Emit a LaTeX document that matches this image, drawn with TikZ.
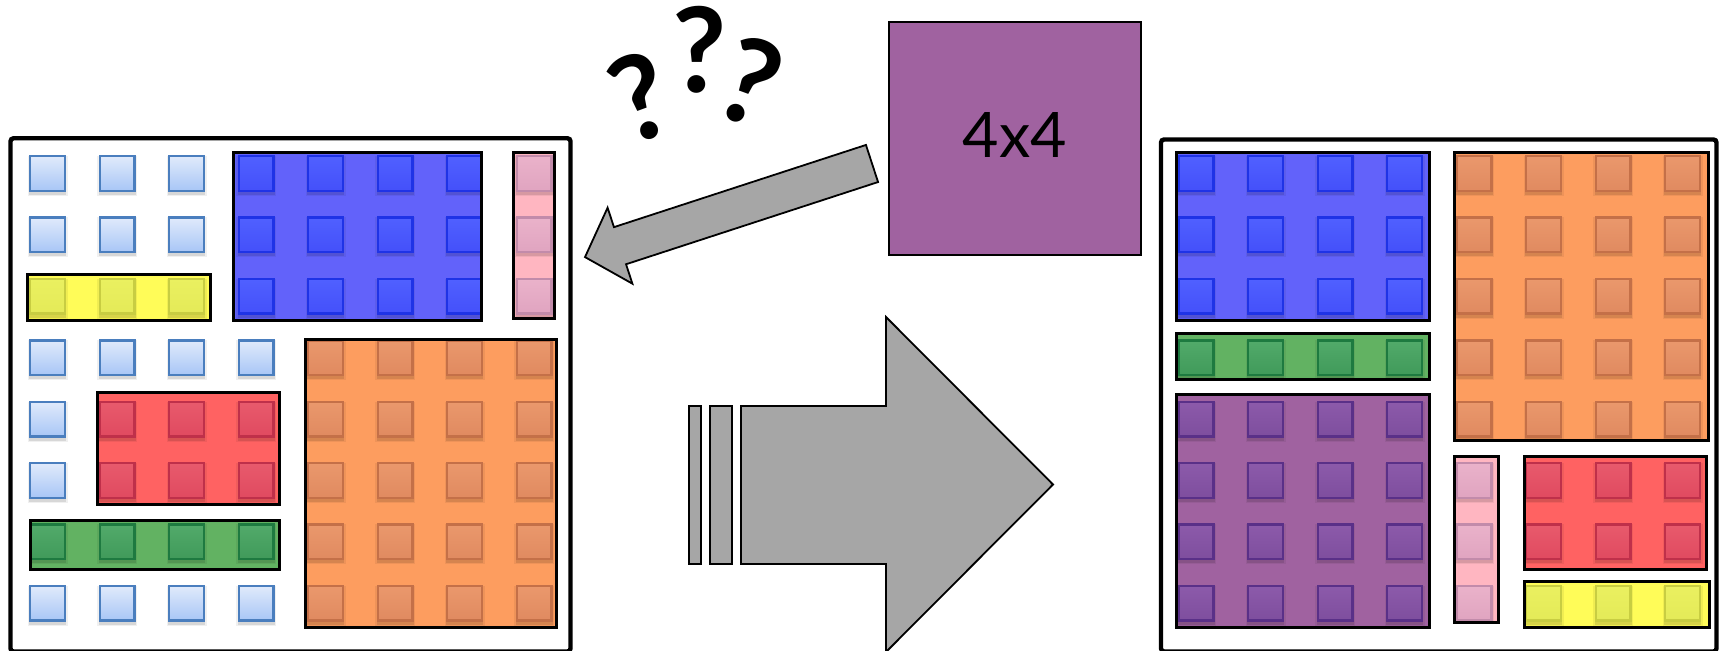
\documentclass[tikz,border=0pt]{standalone}
\usepackage{fontspec}
\setmainfont{Lato}

% palette
\definecolor{freeTop}{HTML}{E0EAFB}
\definecolor{freeBot}{HTML}{A8C6F6}
\definecolor{freeLine}{HTML}{4A7EBE}
\definecolor{blueFill}{HTML}{6262FA}
\definecolor{blueTop}{HTML}{5060FF}
\definecolor{blueBot}{HTML}{4450FA}
\definecolor{blueLine}{HTML}{1F33E6}
\definecolor{pinkFill}{HTML}{FFB6C1}
\definecolor{pinkTop}{HTML}{EAB2CA}
\definecolor{pinkBot}{HTML}{E0A4C0}
\definecolor{pinkLine}{HTML}{C28BAA}
\definecolor{yellowFill}{HTML}{FFFC58}
\definecolor{yellowTop}{HTML}{EAF060}
\definecolor{yellowBot}{HTML}{E4EA58}
\definecolor{yellowLine}{HTML}{C8CD42}
\definecolor{orangeFill}{HTML}{FD9D5F}
\definecolor{orangeTop}{HTML}{EA986C}
\definecolor{orangeBot}{HTML}{E08A60}
\definecolor{orangeLine}{HTML}{C47048}
\definecolor{redFill}{HTML}{FF6262}
\definecolor{redTop}{HTML}{E85A6C}
\definecolor{redBot}{HTML}{E04A60}
\definecolor{redLine}{HTML}{BF304A}
\definecolor{greenFill}{HTML}{62B262}
\definecolor{greenTop}{HTML}{52AA6A}
\definecolor{greenBot}{HTML}{409A5A}
\definecolor{greenLine}{HTML}{1E7A40}
\definecolor{purpleFill}{HTML}{A062A0}
\definecolor{purpleTop}{HTML}{8C5AAA}
\definecolor{purpleBot}{HTML}{7E4E9E}
\definecolor{purpleLine}{HTML}{5A3088}
\definecolor{arrowGray}{HTML}{A6A6A6}

\tikzset{
  panel/.style={draw=black, fill=white, line width=2.2pt, rounded corners=1.5pt},
  blockline/.style={draw=black, line width=1.5pt},
  freecell/.style={draw=freeLine, line width=1.2pt, top color=freeTop, bottom color=freeBot},
  bluecell/.style={draw=blueLine, line width=1.2pt, top color=blueTop, bottom color=blueBot},
  pinkcell/.style={draw=pinkLine, line width=1.2pt, top color=pinkTop, bottom color=pinkBot},
  yellowcell/.style={draw=yellowLine, line width=1.2pt, top color=yellowTop, bottom color=yellowBot},
  orangecell/.style={draw=orangeLine, line width=1.2pt, top color=orangeTop, bottom color=orangeBot},
  redcell/.style={draw=redLine, line width=1.2pt, top color=redTop, bottom color=redBot},
  greencell/.style={draw=greenLine, line width=1.2pt, top color=greenTop, bottom color=greenBot},
  purplecell/.style={draw=purpleLine, line width=1.2pt, top color=purpleTop, bottom color=purpleBot},
  grayarrow/.style={draw=black, fill=arrowGray, line width=0.9pt, line join=miter},
  qmark/.style={inner sep=0pt, font=\bfseries\fontsize{59pt}{59pt}\selectfont},
  fourbox/.style={draw=black, fill=purpleFill, line width=0.8pt, minimum width=126pt,
                  minimum height=116.5pt, inner sep=0pt},
}

% one grid cell with a soft shadow: #1 panel origin x, #2 column, #3 row, #4 style
\newcommand\cellsq[4]{%
  \fill[black, opacity=.06] ({#1+69.5*#2-1.5},{155+61.4*#3+1}) rectangle ++(40,40);
  \fill[black, opacity=.10] ({#1+69.5*#2},{155+61.4*#3+3}) rectangle ++(37,37);
  \path[#4] ({#1+69.5*#2+1.2},{155+61.4*#3+1.2}) rectangle ++(34.6,34.6);
}

% a coloured block: #1 panel origin x, #2-#5 corners, #6 fill, #7 cell style, #8 columns, #9 rows
\newcommand\drawblock[9]{%
  \fill[#6] (#2,#3) rectangle (#4,#5);
  \begin{scope}
    \clip (#2,#3) rectangle (#4,#5);
    \foreach \cc in {#8} {\foreach \rr in {#9} {\cellsq{#1}{\cc}{\rr}{#7}}}
  \end{scope}
  \draw[blockline] (#2,#3) rectangle (#4,#5);
}

\begin{document}
\begin{tikzpicture}[x=0.5pt, y=-0.5pt]
\clip (0,0) rectangle (1723,651);
\fill[white] (0,0) rectangle (1723,651);

% ---------- left panel: scattered free cells ----------
\draw[panel] (10.5,138.3) rectangle (570.5,651.5);
\foreach \cc/\rr in {0/0,1/0,2/0,0/1,1/1,2/1,0/3,1/3,2/3,3/3,0/4,0/5,0/7,1/7,2/7,3/7}
  {\cellsq{29}{\cc}{\rr}{freecell}}
\drawblock{29}{233.3}{152.3}{481.7}{321}{blueFill}{bluecell}{3,4,5,6}{0,1,2}
\drawblock{29}{513.3}{152.3}{554}{318.3}{pinkFill}{pinkcell}{7}{0,1,2}
\drawblock{29}{27.7}{275}{210}{321}{yellowFill}{yellowcell}{0,1,2}{2}
\drawblock{29}{305}{339.3}{556.7}{627.3}{orangeFill}{orangecell}{4,5,6,7}{3,4,5,6,7}
\drawblock{29}{97.3}{392.7}{279.3}{505}{redFill}{redcell}{1,2,3}{4,5}
\drawblock{29}{30.7}{520.7}{279.3}{569.3}{greenFill}{greencell}{0,1,2,3}{6}

% ---------- right panel: packed blocks ----------
\draw[panel] (1161,139.5) rectangle (1716.5,651.5);
\drawblock{1177.5}{1176.7}{152.3}{1429.3}{321}{blueFill}{bluecell}{0,1,2,3}{0,1,2}
\drawblock{1177.5}{1176.7}{333.3}{1429.3}{380}{greenFill}{greencell}{0,1,2,3}{3}
\drawblock{1177.5}{1176.7}{395}{1429.3}{627.3}{purpleFill}{purplecell}{0,1,2,3}{4,5,6,7}
\drawblock{1177.5}{1454}{152.3}{1708.3}{440.7}{orangeFill}{orangecell}{4,5,6,7}{0,1,2,3,4}
\drawblock{1177.5}{1454}{456.7}{1498.3}{622.3}{pinkFill}{pinkcell}{4}{5,6,7}
\drawblock{1177.5}{1524}{456.7}{1706.7}{569.3}{redFill}{redcell}{5,6,7}{5,6}
\drawblock{1177.5}{1524}{581.7}{1709.3}{627.3}{yellowFill}{yellowcell}{5,6,7}{7}

% ---------- incoming 4x4 request ----------
\node[fourbox] (req) at (1015,138.5) {};
\node[inner sep=0pt, font=\fontsize{31.4pt}{32pt}\selectfont] (reqlabel) at (1015,135.5) {4x4};

% question marks
\node[qmark, rotate=20] (qa) at (640,97) {?};
\node[qmark] (qb) at (700,50) {?};
\node[qmark, rotate=-20] (qc) at (751,82) {?};

% slanted block arrow towards the left panel
\draw[grayarrow] (865.95,144.95) -- (613.95,227.15) -- (607.6,207.7) -- (585,257.1)
  -- (632.4,283.7) -- (626.05,264.25) -- (878.05,182.05) -- cycle;

% big block arrow with speed bars
\draw[grayarrow] (689,406) rectangle (701,564);
\draw[grayarrow] (710,406) rectangle (732,564);
\draw[grayarrow] (741,406) -- (886,406) -- (886,317) -- (1053,484.5) -- (886,652)
  -- (886,564) -- (741,564) -- cycle;
\end{tikzpicture}
\end{document}
